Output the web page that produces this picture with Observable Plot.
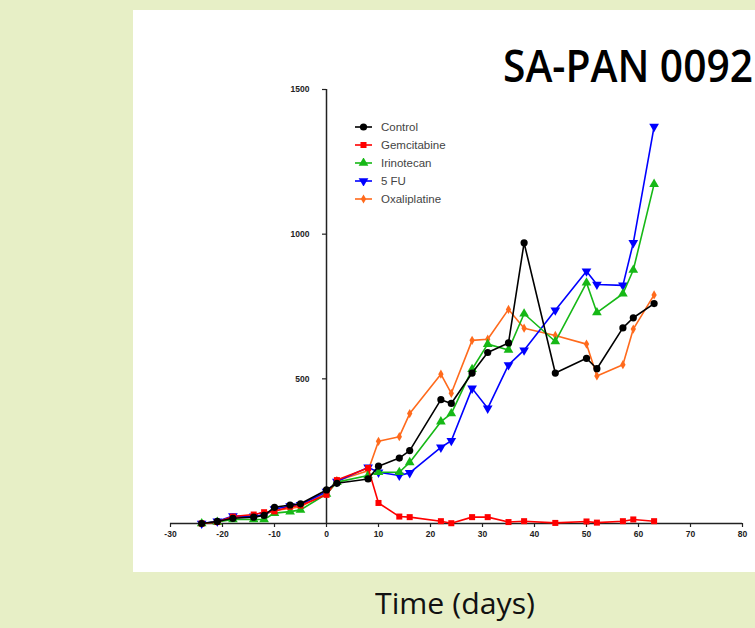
<!DOCTYPE html>
<html>
<head>
<meta charset="utf-8">
<script src="https://cdn.jsdelivr.net/npm/d3@7"></script>
<script src="https://cdn.jsdelivr.net/npm/@observablehq/plot@0.6"></script>
<style>
html, body { margin: 0; padding: 0; }
body { width: 755px; height: 628px; background: #e7efc6; position: relative; overflow: hidden; font-family: "Open Sans", sans-serif; }
#panel { position: absolute; left: 133px; top: 10px; width: 622px; height: 562px; background: #fff; }
#panel svg { display: block; }
#title { position: absolute; left: 503px; top: 41px; font-size: 46px; line-height: 46px; font-weight: 600; white-space: nowrap; transform-origin: 0 0; color: #000; }
#xlabel { position: absolute; left: 375px; top: 588px; font-size: 30px; line-height: 30px; white-space: nowrap; color: #111; transform-origin: 0 0; }
#legend { position: absolute; left: 355px; top: 118px; font-family: "Liberation Sans", Arial, sans-serif; font-size: 11.5px; color: #444; }
#legend .row { height: 18px; display: flex; align-items: center; }
#legend svg { margin-right: 8px; }
</style>
</head>
<body>
<div id="panel"></div>
<div id="title">SA-PAN 0092</div>
<div id="xlabel">Time (days)</div>
<div id="legend"></div>
<script>
// ---- data ----
const days = [-24, -21, -18, -14, -12, -10, -7, -5, 0, 2, 8, 10, 14, 16, 22, 24, 28, 31, 35, 38, 44, 50, 52, 57, 59, 63];
const control      = [0, 7, 18, 22, 28, 56, 64, 68, 116, 139, 154, 198, 226, 252, 428, 415, 520, 591, 624, 970, 520, 571, 535, 676, 711, 760];
const gemcitabine  = [0, 5, 24, 31, 39, 42, 58, 62, 99, 150, 192, 71, 24, 22, 8, 1, 22, 22, 5, 8, 2, 7, 3, 8, 14, 8];
const irinotecan   = [0, 5, 14, 14, 14, 36, 41, 47, 102, 143, 166, 177, 177, 211, 352, 380, 533, 620, 600, 725, 629, 832, 729, 794, 876, 1173];
const fiveFU       = [0, 8, 26, 25, 30, 50, 60, 65, 110, 145, 194, 177, 166, 175, 263, 286, 467, 398, 548, 599, 737, 872, 826, 823, 970, 1372];
const oxaliplatine = [0, 6, 20, 24, 30, 45, 52, 58, 105, 148, 182, 284, 300, 380, 516, 450, 633, 637, 740, 675, 650, 620, 510, 549, 672, 790];

const seriesNames = ["Control", "Gemcitabine", "Irinotecan", "5 FU", "Oxaliplatine"];
const seriesValues = [control, gemcitabine, irinotecan, fiveFU, oxaliplatine];
const seriesColors = ["#000000", "#ff0000", "#16b816", "#0000ff", "#ff6a1c"];

const xTicks = [-30, -20, -10, 0, 10, 20, 30, 40, 50, 60, 70, 80];
const yTicks = [500, 1000, 1500];

// symbols
const sqrt3 = Math.sqrt(3);
const triangleDown = {
  draw(context, size) {
    const y = -Math.sqrt(size / (sqrt3 * 3));
    context.moveTo(0, -y * 2);
    context.lineTo(-sqrt3 * y, y);
    context.lineTo(sqrt3 * y, y);
    context.closePath();
  }
};
const seriesSymbols = [d3.symbolCircle, d3.symbolSquare, d3.symbolTriangle, triangleDown, d3.symbolDiamond];
const seriesR = [3.6, 3.4, 3.6, 3.6, 2.8];

// table
const rows = [];
seriesNames.forEach((name, s) => {
  days.forEach((d, i) => rows.push({series: name, day: d, value: seriesValues[s][i]}));
});

const marks = [
  Plot.ruleY([0], {stroke: "#222", strokeWidth: 1.5}),
  Plot.ruleX([0], {y1: 0, y2: 1500, stroke: "#222", strokeWidth: 1.5}),
  Plot.ruleY(yTicks, {y: d => d, x1: 0, x2: 0, insetLeft: -4, stroke: "#222", strokeWidth: 1.2}),
  Plot.text(yTicks, {x: 0, y: d => d, text: d => String(d), textAnchor: "end", dx: -17, fill: "#222"}),
  Plot.axisX({ticks: xTicks, tickSize: 4, tickPadding: 3, label: null, tickFormat: d => String(d), stroke: "#222", strokeWidth: 1.2, fill: "#222"})
];
for (let s = seriesNames.length - 1; s >= 0; s--) {
  const data = rows.filter(r => r.series === seriesNames[s]);
  marks.push(Plot.line(data, {x: "day", y: "value", stroke: seriesColors[s], strokeWidth: 1.6}));
  marks.push(Plot.dot(data, {x: "day", y: "value", symbol: seriesSymbols[s], fill: seriesColors[s], stroke: "none", r: seriesR[s]}));
}

const chart = Plot.plot({
  width: 622,
  height: 562,
  marginLeft: 37,
  marginRight: 13,
  marginTop: 79,
  marginBottom: 49,
  x: {domain: [-30, 80], axis: null},
  y: {domain: [0, 1500], axis: null},
  style: {fontFamily: "'Liberation Sans', Arial, sans-serif", fontSize: "8.5px", fontWeight: "bold", background: "#fff", color: "#222"},
  marks
});
document.getElementById("panel").appendChild(chart);

// legend
const legend = d3.select("#legend");
seriesNames.forEach((name, s) => {
  const row = legend.append("div").attr("class", "row");
  const svg = row.append("svg").attr("width", 18).attr("height", 10);
  svg.append("line").attr("x1", 0).attr("x2", 17).attr("y1", 5).attr("y2", 5)
    .attr("stroke", seriesColors[s]).attr("stroke-width", 1.6);
  svg.append("path").attr("transform", "translate(8.5,5)")
    .attr("d", d3.symbol(seriesSymbols[s], Math.PI * seriesR[s] * seriesR[s])())
    .attr("fill", seriesColors[s]);
  row.append("span").text(name);
});

// fit title / label widths to reference
function fit(id, w) {
  const el = document.getElementById(id);
  const cur = el.getBoundingClientRect().width;
  el.style.transform = `scaleX(${w / cur})`;
}
fit("title", 250);
fit("xlabel", 160);
</script>
</body>
</html>
